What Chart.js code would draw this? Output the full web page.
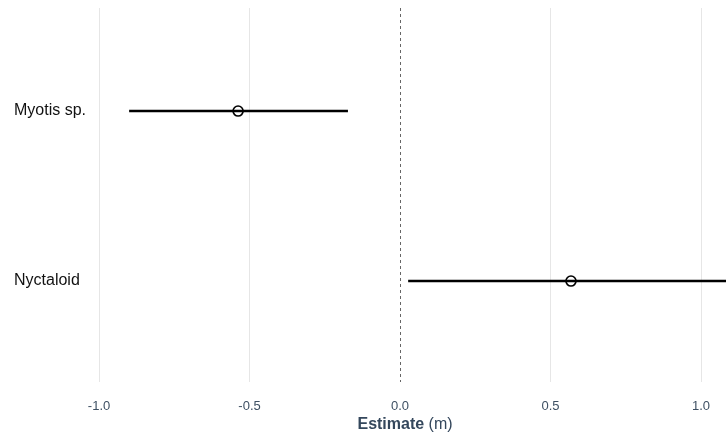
<!DOCTYPE html>
<html><head><meta charset="utf-8">
<script src="https://cdn.jsdelivr.net/npm/chart.js@4/dist/chart.umd.min.js"></script>
<style>html,body{margin:0;padding:0;background:#fff;}#wrap{width:726px;height:435px;position:relative;}</style>
</head><body><div id="wrap"><canvas id="c" width="726" height="435"></canvas></div>
<script>
const categories = ["Myotis sp.", "Nyctaloid"];
const estimates = [-0.538, 0.568];
const lowerCI = [-0.900, 0.027];
const upperCI = [-0.173, 1.150];
const xTicks = [-1.0, -0.5, 0.0, 0.5, 1.0];

const datasets = categories.map((c, i) => ({
  type: 'line',
  data: [{x: lowerCI[i], y: i + 1}, {x: upperCI[i], y: i + 1}],
  borderColor: '#000', borderWidth: 2.5, pointRadius: 0, showLine: true, fill: false
}));
datasets.push({
  type: 'scatter',
  data: estimates.map((v, i) => ({x: v, y: i + 1})),
  backgroundColor: '#fff', borderColor: '#000', borderWidth: 1.7, pointRadius: 5, pointHoverRadius: 5
});

const zeroLine = {
  id: 'zeroLine',
  beforeDatasetsDraw(chart) {
    const {ctx, chartArea, scales} = chart;
    const x = Math.round(scales.x.getPixelForValue(0)) + 0.5;
    ctx.save();
    ctx.strokeStyle = '#666';
    ctx.lineWidth = 1;
    ctx.setLineDash([3, 3]);
    ctx.beginPath();
    ctx.moveTo(x, chartArea.top);
    ctx.lineTo(x, chartArea.bottom);
    ctx.stroke();
    ctx.restore();
  }
};
const axisTitle = {
  id: 'axisTitle',
  afterDraw(chart) {
    const {ctx, scales} = chart;
    const cx = scales.x.getPixelForValue(0) + 5;
    const y = 425;
    ctx.save();
    ctx.textBaseline = 'middle';
    ctx.fillStyle = '#34475c';
    const t1 = 'Estimate';
    const t2 = ' (m)';
    ctx.font = 'bold 16px "Liberation Sans", Arial, sans-serif';
    const w1 = ctx.measureText(t1).width;
    ctx.font = '16px "Liberation Sans", Arial, sans-serif';
    const w2 = ctx.measureText(t2).width;
    const start = cx - (w1 + w2) / 2;
    ctx.textAlign = 'left';
    ctx.font = 'bold 16px "Liberation Sans", Arial, sans-serif';
    ctx.fillText(t1, start, y);
    ctx.font = '16px "Liberation Sans", Arial, sans-serif';
    ctx.fillText(t2, start + w1, y);
    ctx.restore();
  }
};

new Chart(document.getElementById('c'), {
  data: {datasets},
  options: {
    responsive: false, animation: false,
    layout: {autoPadding: false, padding: {left: 14, top: 8, right: 0, bottom: 0}},
    plugins: {legend: {display: false}, tooltip: {enabled: false}},
    scales: {
      x: {
        type: 'linear', min: -1.03, max: 1.083,
        afterBuildTicks(axis) { axis.ticks = xTicks.map(v => ({value: v})); },
        afterFit(axis) { axis.height = 53; axis.paddingLeft = 0; axis.paddingRight = 0; },
        grid: {drawTicks: false, color: ctx => (ctx.tick && ctx.tick.value === 0) ? 'rgba(0,0,0,0)' : '#e6e6e6', lineWidth: 1},
        border: {display: false},
        ticks: {padding: 17, color: '#3e5063', font: {family: '"Liberation Sans", Arial, sans-serif', size: 13},
          callback: v => v.toFixed(1)}
      },
      y: {
        type: 'linear', reverse: true, min: 0.394, max: 2.594,
        afterBuildTicks(axis) { axis.ticks = categories.map((c, i) => ({value: i + 1})); },
        afterFit(axis) { axis.width = 76; axis.paddingTop = 0; axis.paddingBottom = 0; },
        grid: {display: false, drawTicks: false},
        border: {display: false},
        ticks: {crossAlign: 'far', padding: 0, color: '#111', font: {family: '"Liberation Sans", Arial, sans-serif', size: 16},
          callback: v => categories[v - 1] || ''}
      }
    }
  },
  plugins: [zeroLine, axisTitle]
});
</script></body></html>
